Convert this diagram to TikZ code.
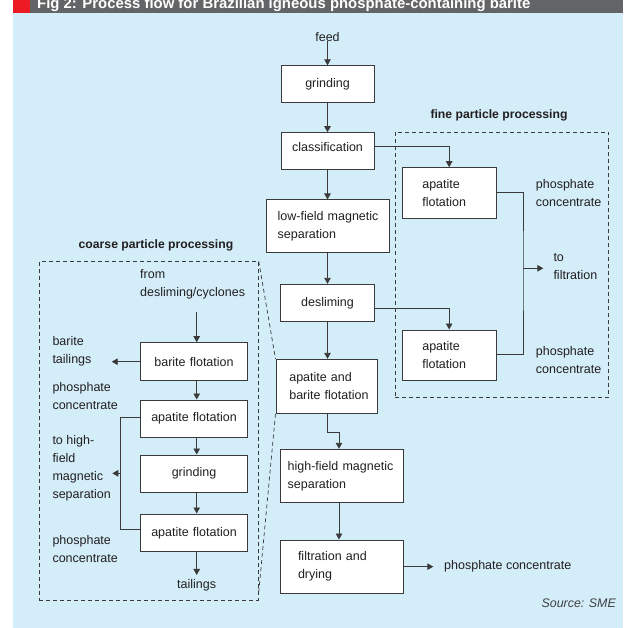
\documentclass[tikz,border=0pt]{standalone}
\usepackage{fontspec}
\setmainfont{Liberation Sans}
\usetikzlibrary{arrows.meta,calc}
\definecolor{bg}{HTML}{D3EDF9}
\definecolor{bar}{HTML}{636466}
\definecolor{figred}{HTML}{ED1C24}
\definecolor{ink}{HTML}{231F20}
\definecolor{ln}{HTML}{3A3A3A}
\definecolor{src}{HTML}{404040}
\begin{document}
\begin{tikzpicture}[x=1pt,y=-1pt,
  every node/.style={font=\fontsize{12.5}{18}\selectfont, text=ink},
  box/.style={draw=ln, line width=1pt, fill=white, inner ysep=0pt},
  cbox/.style={box, align=center},
  lbox/.style={box, align=left},
  lbl/.style={inner sep=0pt, align=left, anchor=west},
  ttl/.style={inner sep=0pt, font=\bfseries\fontsize{12.2}{15}\selectfont},
  dbox/.style={draw=ln, line width=0.8pt, dash pattern=on 4pt off 3pt, inner sep=0pt},
  dsh/.style={draw=ln, line width=0.7pt, dash pattern=on 4pt off 3pt},
  conn/.style={draw=ln, line width=0.9pt},
  arr/.style={conn, -{Triangle[length=6pt,width=6.5pt]}}]
\useasboundingbox (0,0) rectangle (623,628);
\fill[bg] (13,13) rectangle (623,628);
\begin{scope}
\clip (13,0) rectangle (623,13);
\fill[bar] (13,0) rectangle (623,13);
\fill[figred] (13,0) rectangle (30,13);
\node[anchor=base west, text=white, inner sep=0pt, font=\bfseries\fontsize{14.9}{17}\selectfont] (title) at (37,9) {Fig 2: Process flow for Brazilian igneous phosphate-containing barite};
\end{scope}

% dashed frames
\node[dbox, minimum width=213.7pt, minimum height=265.4pt] (finebox) at (501.85,265) {};
\node[dbox, minimum width=219pt, minimum height=338.3pt] (coarsebox) at (148.8,430.85) {};
\node[ttl] (finet) at (499,115.7) {fine particle processing};
\node[ttl] (coarset) at (156,245) {coarse particle processing};

% main column
\node[inner sep=0pt] (feed) at (327.5,36.7) {feed};
\node[cbox, minimum width=93pt, minimum height=37pt, text width=85pt, inner xsep=4pt] (grind) at (327.5,84.3) {grinding};
\node[cbox, minimum width=93pt, minimum height=37.3pt, text width=85pt, inner xsep=4pt] (class) at (327.5,151.35) {\raisebox{4.5pt}[\height][\depth]{classification}};
\node[lbox, minimum width=122.3pt, minimum height=52.7pt, text width=100.3pt, inner xsep=11pt] (lowf) at (327.85,226.35) {\mbox{low-field magnetic}\\separation};
\node[cbox, minimum width=93.6pt, minimum height=37.4pt, text width=85pt, inner xsep=4.3pt] (desl) at (327.5,303) {desliming};
\node[lbox, minimum width=101.7pt, minimum height=54pt, text width=75.1pt, inner xsep=13.3pt] (ab) at (326.85,386.3) {apatite and\\\mbox{barite flotation}};
\node[lbox, minimum width=123pt, minimum height=53.4pt, text width=107.6pt, inner xsep=7.7pt] (hf) at (341.5,476) {\mbox{high-field magnetic}\\separation};
\node[lbox, minimum width=123pt, minimum height=53.3pt, text width=87pt, inner xsep=18pt] (filt) at (341.5,566.65) {filtration and\\drying};
\node[lbl] (pc4) at (444,566) {phosphate concentrate};
\coordinate (t4) at (433.3,566.65);

% fine particle processing
\node[lbox, minimum width=93.7pt, minimum height=50.6pt, text width=53.7pt, inner xsep=20pt] (fine1) at (449.15,193) {apatite\\flotation};
\node[lbox, minimum width=93.7pt, minimum height=50pt, text width=53.7pt, inner xsep=20pt] (fine2) at (449.15,355) {apatite\\flotation};
\node[lbl] (pc1) at (535.7,192.7) {phosphate\\concentrate};
\node[lbl] (pc2) at (535.7,360) {phosphate\\concentrate};
\node[lbl] (tofilt) at (553.3,266.2) {to\\filtration};
\coordinate (jn) at (523,268.3);
\coordinate (tft) at (543.3,268.3);

% coarse particle processing
\node[lbl] (fromd) at (140,284.2) {from\\desliming/cyclones};
\node[cbox, minimum width=106.6pt, minimum height=38pt, text width=98pt, inner xsep=4.3pt] (bf) at (194,361.7) {barite flotation};
\node[cbox, minimum width=106.6pt, minimum height=37.3pt, text width=98pt, inner xsep=4.3pt] (af1) at (194,418.65) {apatite flotation};
\node[cbox, minimum width=106.6pt, minimum height=37.3pt, text width=98pt, inner xsep=4.3pt] (gr2) at (194,473.65) {grinding};
\node[cbox, minimum width=106.6pt, minimum height=37.7pt, text width=98pt, inner xsep=4.3pt] (af2) at (194,532.85) {apatite flotation};
\node[inner sep=0pt] (tail) at (196.7,585) {tailings};
\node[lbl] (btl) at (52.3,351.2) {barite\\tailings};
\node[lbl] (pcc1) at (52.3,396.5) {phosphate\\concentrate};
\node[lbl] (tohf) at (52.3,468) {to high-\\field\\magnetic\\separation};
\node[lbl] (pcc2) at (52.3,549.2) {phosphate\\concentrate};
\coordinate (c0) at (196.7,311.7);
\coordinate (btip) at (111.7,361.7);
\coordinate (bkx) at (120.7,473.3);
\coordinate (bkt) at (112.3,473.3);

% callout lines
\draw[dsh] (coarsebox.north east) -- (ab.north west);
\draw[dsh] (ab.south west) -- ($(coarsebox.south east)+(0,-8)$);

% main connectors
\draw[arr] (feed) -- (grind);
\draw[arr] (grind) -- (class);
\draw[arr] (class.south) -- (class.south |- lowf.north);
\draw[arr] (desl.north |- lowf.south) -- (desl.north);
\draw[arr] (desl.south) -- (desl.south |- ab.north);
\draw[arr] (desl.south |- ab.south) -- ++(0,18.4) -| ([xshift=-2.5pt]hf.north);
\draw[arr] ([xshift=-2.5pt]hf.south) -- ([xshift=-2.5pt]filt.north);
\draw[arr] (filt.east) -- (t4);

% fine connectors
\draw[arr] ([yshift=4.65pt]class.east) -| (fine1.north);
\draw[arr] ([yshift=-5.3pt]desl.east) -| (fine2.north);
\draw[conn] ([yshift=0.7pt]fine1.east) -| (jn) |- ([yshift=0.7pt]fine2.east);
\draw[arr] (jn) -- (tft);

% coarse connectors
\draw[arr] (c0) -- (c0 |- bf.north);
\draw[arr] ([xshift=2.7pt]bf.south) -- ([xshift=2.7pt]af1.north);
\draw[arr] ([xshift=2.7pt]af1.south) -- ([xshift=2.7pt]gr2.north);
\draw[arr] ([xshift=2.7pt]gr2.south) -- ([xshift=2.7pt]af2.north);
\draw[arr, shorten >=4pt] ([xshift=2.7pt]af2.south) -- (tail.north);
\draw[arr] (bf.west) -- (btip);
\draw[conn] ([yshift=1.3pt]af1.west) -| (bkx) |- ([yshift=3.8pt]af2.west);
\draw[arr] (bkx) -- (bkt);

\node[anchor=east, inner sep=0pt, text=src, font=\itshape\fontsize{12.4}{15}\selectfont] (source) at (616,603.3) {Source: SME};
\end{tikzpicture}
\end{document}
